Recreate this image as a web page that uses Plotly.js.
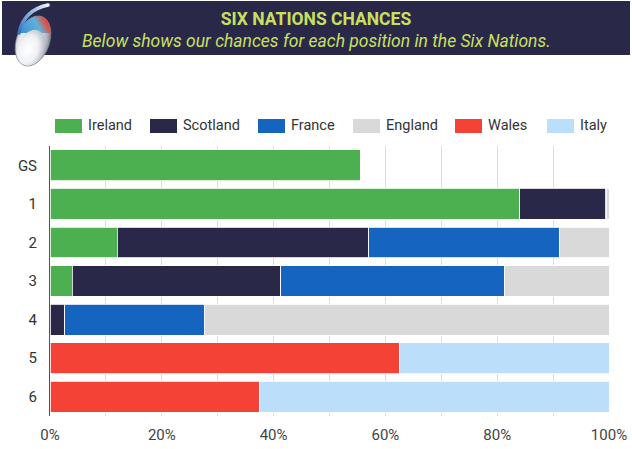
<!DOCTYPE html>
<html>
<head>
<meta charset="utf-8">
<script src="https://cdn.plot.ly/plotly-3.0.1.min.js"></script>
<style>
html,body{margin:0;padding:0;background:#fff;}
#chart{width:632px;height:449px;}
</style>
</head>
<body>
<div id="chart"></div>
<script>
// ---- data ----
var positions = ['GS', '1', '2', '3', '4', '5', '6'];
var teams = ['Ireland', 'Scotland', 'France', 'England', 'Wales', 'Italy'];
var teamColors = ['#4caf50', '#2a2849', '#1565c0', '#d9d9d9', '#f44336', '#bbdefb'];
var ireland  = [55.5, 84.0, 12.0, 4.0, null, null, null];
var scotland = [null, 15.3, 45.0, 37.3, 2.6, null, null];
var france   = [null, 0.3, 34.1, 40.0, 25.1, null, null];
var england  = [null, 0.4, 8.9, 18.7, 72.3, null, null];
var wales    = [null, null, null, null, null, 62.5, 37.4];
var italy    = [null, null, null, null, null, 37.5, 62.6];
var seriesValues = [ireland, scotland, france, england, wales, italy];
var xTickVals = [0, 20, 40, 60, 80, 100];
var xTickText = ['0%', '20%', '40%', '60%', '80%', '100%'];
var titleText = 'SIX NATIONS CHANCES';
var subtitleText = 'Below shows our chances for each position in the Six Nations.';

// ---- geometry helpers (pixel -> paper) ----
var W = 632, H = 449;
var mL = 50, mR = 23, mT = 146, mB = 33;
var pw = W - mL - mR, ph = H - mT - mB;
function px(x) { return (x - mL) / pw; }
function py(y) { return (H - mB - y) / ph; }

var traces = teams.map(function (name, i) {
  return {
    type: 'bar',
    orientation: 'h',
    name: name,
    y: positions,
    x: seriesValues[i],
    marker: { color: teamColors[i], line: { color: '#ffffff', width: 0.8 } },
    hoverinfo: 'x+name',
    showlegend: false
  };
});

var shapes = [];
var annotations = [];

// header band
shapes.push({
  type: 'rect', xref: 'paper', yref: 'paper', layer: 'below',
  x0: px(2), x1: px(630), y0: py(55), y1: py(1),
  fillcolor: '#2a2849', line: { width: 0 }
});

// subtitle
annotations.push({
  xref: 'paper', yref: 'paper', x: px(316), y: py(41),
  xanchor: 'center', yanchor: 'middle', showarrow: false,
  text: '<i>' + subtitleText + '</i>',
  font: { family: 'Roboto, sans-serif', size: 17.5, color: '#c8e05e' }
});

// custom legend
var legendX = [55, 150, 258, 353, 455, 547];
teams.forEach(function (name, i) {
  shapes.push({
    type: 'rect', xref: 'paper', yref: 'paper',
    x0: px(legendX[i]), x1: px(legendX[i] + 27), y0: py(133), y1: py(119),
    fillcolor: teamColors[i], line: { width: 0 }
  });
  annotations.push({
    xref: 'paper', yref: 'paper', x: px(legendX[i] + 31), y: py(126),
    xanchor: 'left', yanchor: 'middle', showarrow: false,
    text: name,
    font: { family: 'Roboto, sans-serif', size: 14.5, color: '#333333' }
  });
});

// logo (decorative)
var logoSvg =
  '<svg xmlns="http://www.w3.org/2000/svg" width="60" height="75" viewBox="0 0 60 75">' +
  '<defs>' +
  '<radialGradient id="g" cx="0.42" cy="0.58" r="0.62">' +
  '<stop offset="0" stop-color="#ffffff"/><stop offset="0.5" stop-color="#e9ebef"/><stop offset="0.85" stop-color="#a3aab5"/><stop offset="1" stop-color="#6f7784"/></radialGradient>' +
  '<radialGradient id="f" cx="0.4" cy="0.55" r="0.6">' +
  '<stop offset="0" stop-color="#ffffff"/><stop offset="0.6" stop-color="#f0f1f4"/><stop offset="1" stop-color="#b9bfc8"/></radialGradient>' +
  '<linearGradient id="cap" x1="0" y1="0.3" x2="1" y2="0">' +
  '<stop offset="0" stop-color="#2f7fd6"/><stop offset="0.45" stop-color="#5db3d8"/><stop offset="0.6" stop-color="#e84a3c"/><stop offset="1" stop-color="#c62828"/></linearGradient>' +
  '<linearGradient id="t" x1="0" y1="1" x2="1" y2="0">' +
  '<stop offset="0" stop-color="#2f6fc0"/><stop offset="0.7" stop-color="#a9c4e4"/><stop offset="1" stop-color="#f2f5fa"/></linearGradient>' +
  '<clipPath id="c"><ellipse cx="33" cy="41" rx="16.5" ry="26" transform="rotate(20 33 41)"/></clipPath>' +
  '</defs>' +
  '<ellipse cx="33" cy="41" rx="16.5" ry="26" transform="rotate(20 33 41)" fill="url(#g)"/>' +
  '<g clip-path="url(#c)">' +
  '<rect x="0" y="0" width="60" height="33" fill="url(#cap)"/>' +
  '<path d="M6 50 Q12 70 30 72 L20 78 L2 60 Z" fill="#2e9e5a"/>' +
  '<ellipse cx="31" cy="49" rx="13" ry="20" transform="rotate(20 31 49)" fill="url(#f)"/>' +
  '</g>' +
  '<ellipse cx="33" cy="41" rx="16.5" ry="26" transform="rotate(20 33 41)" fill="none" stroke="#7d8590" stroke-width="0.6"/>' +
  '<path d="M19 33 Q24 10 48 5" stroke="url(#t)" stroke-width="3.5" fill="none" stroke-linecap="round"/>' +
  '</svg>';

var layout = {
  width: W, height: H,
  margin: { l: mL, r: mR, t: mT, b: mB, pad: 0 },
  paper_bgcolor: '#ffffff',
  plot_bgcolor: '#ffffff',
  barmode: 'stack',
  bargap: 0.2,
  showlegend: false,
  font: { family: 'Roboto, sans-serif', size: 14, color: '#333333' },
  title: {
    text: '<b>' + titleText + '</b>',
    x: 316 / W, xanchor: 'center', xref: 'container',
    y: 1 - 19 / H, yanchor: 'middle', yref: 'container',
    font: { family: 'Roboto, sans-serif', size: 17.5, color: '#c8e05e' }
  },
  xaxis: {
    range: [0, 100],
    tickvals: xTickVals,
    ticktext: xTickText,
    showgrid: true,
    gridcolor: '#dddddd',
    gridwidth: 1,
    minor: { dtick: 10, tick0: 0, showgrid: true, gridcolor: '#dddddd', gridwidth: 1 },
    zeroline: false,
    showline: false,
    ticks: '',
    ticklabelstandoff: 8,
    tickfont: { family: 'Roboto, sans-serif', size: 15, color: '#444444' },
    fixedrange: true
  },
  yaxis: {
    type: 'category',
    categoryorder: 'array',
    categoryarray: positions,
    autorange: 'reversed',
    showgrid: false,
    zeroline: false,
    showline: true,
    linecolor: '#555555',
    linewidth: 1,
    ticks: '',
    ticklabelstandoff: 9,
    tickfont: { family: 'Roboto, sans-serif', size: 15, color: '#333333' },
    fixedrange: true
  },
  shapes: shapes,
  annotations: annotations,
  images: [{
    source: 'data:image/svg+xml;charset=utf-8,' + encodeURIComponent(logoSvg),
    xref: 'paper', yref: 'paper',
    x: px(0), y: py(0),
    sizex: 60 / pw, sizey: 75 / ph,
    xanchor: 'left', yanchor: 'top',
    sizing: 'stretch', layer: 'above'
  }]
};

Plotly.newPlot('chart', traces, layout, { displayModeBar: false, staticPlot: true });
</script>
</body>
</html>
